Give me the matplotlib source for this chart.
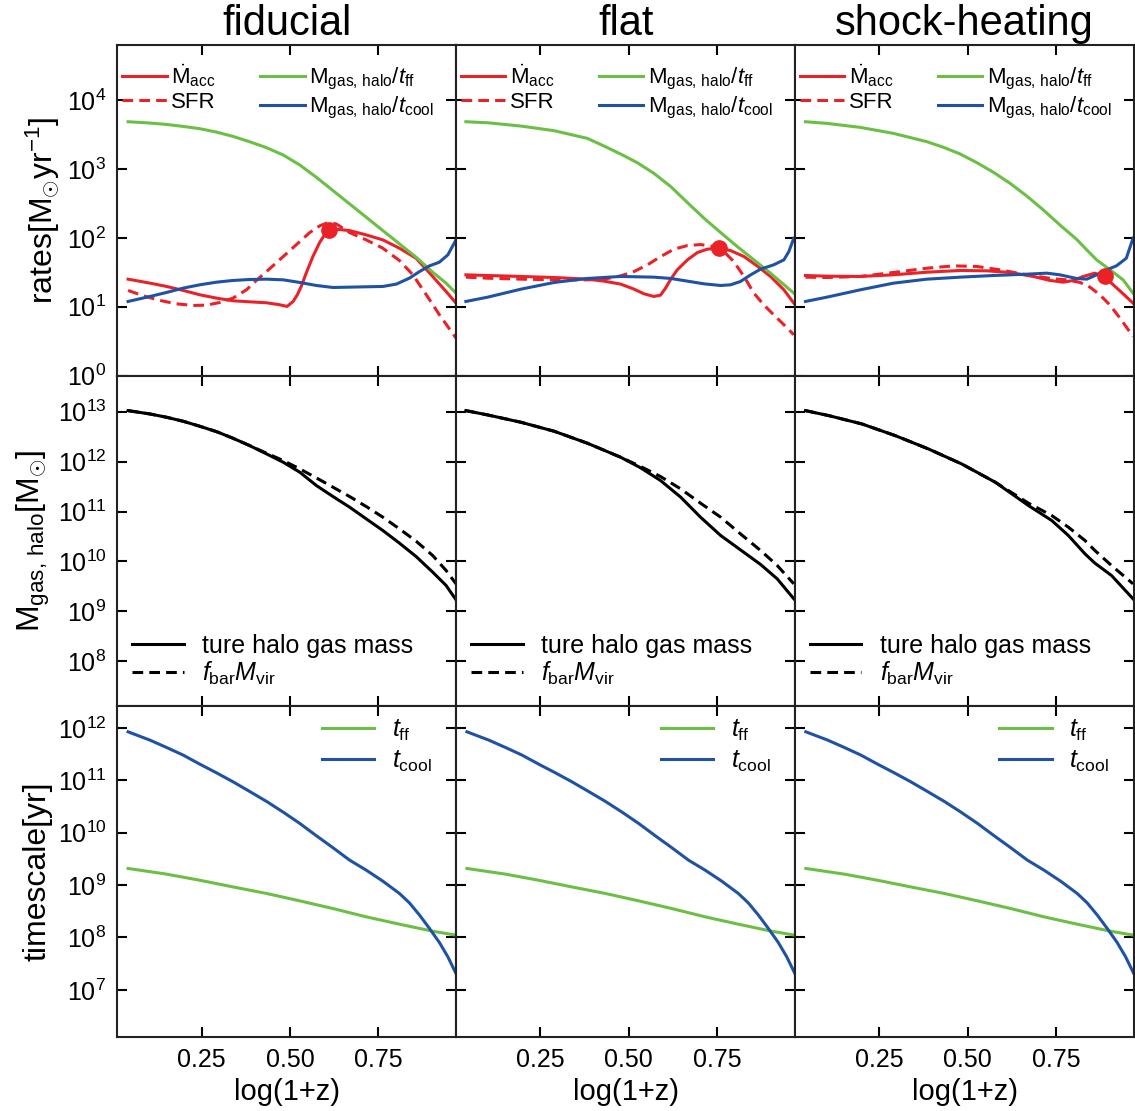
import matplotlib
matplotlib.use("Agg")
import matplotlib.pyplot as plt
import numpy as np
from matplotlib.ticker import LogLocator, NullLocator, FixedLocator, FormatStrFormatter

plt.rcParams["font.family"] = ["Liberation Sans", "DejaVu Sans"]
plt.rcParams["mathtext.fontset"] = "custom"
plt.rcParams["mathtext.rm"] = "Liberation Sans"
plt.rcParams["mathtext.it"] = "Liberation Sans:italic"
plt.rcParams["mathtext.bf"] = "Liberation Sans:bold"

RED = "#eb2128"
GREEN = "#6bbf45"
BLUE = "#1f52a3"

titles = ["fiducial", "flat", "shock-heating"]

# values below are log10 of the plotted quantity

# ---- top row: rates [Msun/yr] ----
# fiducial
macc_x_fid = [0.042, 0.104, 0.151, 0.198, 0.245, 0.292, 0.339, 0.386, 0.434, 0.471, 0.492, 0.509, 0.521,
              0.532, 0.546, 0.565, 0.584, 0.598, 0.612, 0.631, 0.669, 0.716, 0.763, 0.810, 0.857, 0.904,
              0.942, 0.970]
log_macc_fid = [1.401, 1.343, 1.295, 1.237, 1.174, 1.126, 1.087, 1.072, 1.058, 1.029, 1.005, 1.077, 1.174,
                1.295, 1.488, 1.729, 1.932, 2.043, 2.106, 2.126, 2.106, 2.043, 1.971, 1.850, 1.705, 1.440,
                1.222, 1.053]
sfr_x_fid = [0.042, 0.085, 0.132, 0.179, 0.226, 0.264, 0.302, 0.339, 0.377, 0.405, 0.434, 0.481, 0.528,
             0.556, 0.584, 0.608, 0.631, 0.669, 0.716, 0.763, 0.810, 0.848, 0.886, 0.923, 0.970]
log_sfr_fid = [1.237, 1.159, 1.092, 1.043, 1.019, 1.024, 1.063, 1.126, 1.246, 1.382, 1.512, 1.729, 1.947,
               2.077, 2.174, 2.222, 2.203, 2.077, 1.971, 1.850, 1.671, 1.464, 1.174, 0.884, 0.546]
cool_x_fid = [0.042, 0.104, 0.151, 0.198, 0.245, 0.292, 0.339, 0.386, 0.434, 0.481, 0.528, 0.575, 0.622,
              0.669, 0.716, 0.763, 0.801, 0.838, 0.867, 0.895, 0.923, 0.947, 0.970]
log_cool_fid = [1.077, 1.150, 1.208, 1.271, 1.319, 1.357, 1.382, 1.396, 1.401, 1.391, 1.353, 1.309, 1.280,
                1.285, 1.290, 1.295, 1.329, 1.415, 1.512, 1.594, 1.647, 1.754, 1.971]
ff_x_fid = [0.042, 0.104, 0.151, 0.198, 0.245, 0.292, 0.339, 0.386, 0.434, 0.481, 0.528, 0.575, 0.622,
            0.669, 0.716, 0.763, 0.810, 0.857, 0.904, 0.942, 0.970]
log_ff_fid = [3.686, 3.667, 3.647, 3.618, 3.585, 3.536, 3.473, 3.396, 3.309, 3.203, 3.058, 2.879, 2.686,
              2.493, 2.300, 2.106, 1.913, 1.720, 1.502, 1.343, 1.198]
peak_fid = (0.612, 2.116)

# flat
macc_x_flat = [0.039, 0.101, 0.195, 0.289, 0.383, 0.430, 0.477, 0.515, 0.543, 0.571, 0.590, 0.604, 0.619,
               0.637, 0.666, 0.694, 0.722, 0.755, 0.788, 0.826, 0.863, 0.901, 0.939, 0.967]
log_macc_flat = [1.464, 1.454, 1.440, 1.425, 1.401, 1.372, 1.329, 1.256, 1.188, 1.150, 1.169, 1.271, 1.401,
                 1.536, 1.681, 1.787, 1.836, 1.850, 1.816, 1.729, 1.594, 1.440, 1.246, 1.053]
sfr_x_flat = [0.039, 0.101, 0.195, 0.289, 0.383, 0.440, 0.477, 0.515, 0.553, 0.590, 0.628, 0.666, 0.703,
              0.741, 0.769, 0.797, 0.826, 0.854, 0.882, 0.910, 0.939, 0.967]
log_sfr_flat = [1.430, 1.415, 1.401, 1.391, 1.391, 1.411, 1.449, 1.512, 1.609, 1.729, 1.836, 1.889, 1.903,
                1.874, 1.802, 1.657, 1.440, 1.198, 1.029, 0.884, 0.739, 0.594]
cool_x_flat = [0.039, 0.101, 0.195, 0.289, 0.383, 0.477, 0.571, 0.619, 0.666, 0.713, 0.760, 0.788, 0.816,
               0.845, 0.873, 0.910, 0.939, 0.953, 0.967]
log_cool_flat = [1.077, 1.140, 1.256, 1.353, 1.411, 1.440, 1.430, 1.411, 1.372, 1.333, 1.309, 1.319, 1.367,
                 1.464, 1.546, 1.609, 1.681, 1.802, 1.995]
ff_x_flat = [0.039, 0.101, 0.195, 0.289, 0.383, 0.430, 0.477, 0.524, 0.571, 0.619, 0.666, 0.713, 0.760,
             0.807, 0.854, 0.901, 0.967]
log_ff_flat = [3.686, 3.671, 3.623, 3.556, 3.444, 3.333, 3.217, 3.092, 2.937, 2.744, 2.512, 2.285, 2.077,
               1.874, 1.681, 1.488, 1.198]
peak_flat = (0.755, 1.850)

# shock-heating
macc_x_sh = [0.041, 0.102, 0.196, 0.290, 0.385, 0.479, 0.554, 0.620, 0.686, 0.733, 0.771, 0.799, 0.827,
             0.860, 0.888, 0.912, 0.940, 0.968]
log_macc_sh = [1.454, 1.444, 1.440, 1.464, 1.502, 1.527, 1.522, 1.498, 1.440, 1.382, 1.357, 1.382, 1.440,
               1.488, 1.430, 1.319, 1.188, 1.053]
sfr_x_sh = [0.041, 0.102, 0.196, 0.290, 0.385, 0.460, 0.526, 0.592, 0.667, 0.742, 0.780, 0.818, 0.846,
            0.874, 0.902, 0.931, 0.968]
log_sfr_sh = [1.430, 1.425, 1.440, 1.498, 1.560, 1.594, 1.585, 1.536, 1.464, 1.406, 1.391, 1.353, 1.285,
              1.174, 1.029, 0.836, 0.570]
cool_x_sh = [0.041, 0.102, 0.196, 0.290, 0.385, 0.479, 0.573, 0.667, 0.724, 0.761, 0.808, 0.837, 0.865,
             0.893, 0.921, 0.949, 0.968]
log_cool_sh = [1.077, 1.140, 1.246, 1.343, 1.401, 1.430, 1.454, 1.473, 1.488, 1.464, 1.411, 1.401, 1.464,
               1.536, 1.594, 1.705, 1.995]
ff_x_sh = [0.041, 0.102, 0.196, 0.290, 0.385, 0.432, 0.479, 0.526, 0.573, 0.620, 0.667, 0.714, 0.761,
           0.808, 0.837, 0.865, 0.903, 0.940, 0.968]
log_ff_sh = [3.686, 3.662, 3.604, 3.517, 3.396, 3.314, 3.217, 3.092, 2.952, 2.792, 2.609, 2.406, 2.188,
             1.981, 1.826, 1.681, 1.536, 1.391, 1.198]
peak_sh = (0.888, 1.440)

# ---- middle row: halo gas mass [Msun] ----
mass_x_fid = [0.042, 0.104, 0.151, 0.198, 0.245, 0.292, 0.339, 0.386, 0.434, 0.481, 0.528, 0.575, 0.622,
              0.669, 0.716, 0.763, 0.810, 0.857, 0.904, 0.942, 0.970]
log_mgas_fid = [13.02, 12.953, 12.887, 12.807, 12.707, 12.600, 12.467, 12.320, 12.153, 11.987, 11.787,
                11.520, 11.300, 11.087, 10.853, 10.620, 10.367, 10.100, 9.787, 9.520, 9.233]
log_fbar_fid = [13.02, 12.953, 12.887, 12.807, 12.707, 12.600, 12.467, 12.320, 12.167, 12.020, 11.853,
                11.673, 11.487, 11.300, 11.100, 10.887, 10.653, 10.407, 10.120, 9.820, 9.553]

mass_x_flat = [0.039, 0.101, 0.195, 0.289, 0.383, 0.477, 0.534, 0.590, 0.647, 0.703, 0.760, 0.816, 0.873,
               0.920, 0.967]
log_mgas_flat = [13.02, 12.933, 12.787, 12.607, 12.367, 12.087, 11.873, 11.620, 11.287, 10.887, 10.520,
                 10.233, 9.940, 9.653, 9.253]
log_fbar_flat = [13.02, 12.933, 12.787, 12.607, 12.367, 12.087, 11.900, 11.700, 11.453, 11.167, 10.887,
                 10.553, 10.220, 9.920, 9.553]

mass_x_sh = [0.041, 0.107, 0.201, 0.295, 0.389, 0.483, 0.578, 0.672, 0.738, 0.785, 0.832, 0.860, 0.907,
             0.968]
log_mgas_sh = [13.02, 12.920, 12.753, 12.520, 12.253, 11.953, 11.587, 11.120, 10.820, 10.520, 10.153,
               9.967, 9.720, 9.253]
log_fbar_sh = [13.02, 12.920, 12.753, 12.520, 12.253, 11.953, 11.587, 11.167, 10.920, 10.687, 10.420,
               10.220, 9.920, 9.553]

# ---- bottom row: timescales [yr] (same in all three runs) ----
tcool_x = [0.042, 0.104, 0.151, 0.198, 0.245, 0.292, 0.339, 0.386, 0.434, 0.481, 0.528, 0.575, 0.622,
           0.669, 0.716, 0.763, 0.810, 0.838, 0.867, 0.895, 0.923, 0.947, 0.970]
log_tcool = [11.924, 11.765, 11.625, 11.479, 11.307, 11.142, 10.970, 10.786, 10.595, 10.391, 10.175, 9.940,
             9.711, 9.475, 9.284, 9.074, 8.839, 8.661, 8.425, 8.171, 7.904, 7.630, 7.312]
tff_x = [0.042, 0.151, 0.245, 0.339, 0.434, 0.528, 0.622, 0.716, 0.810, 0.904, 0.970]
log_tff = [9.316, 9.208, 9.091, 8.964, 8.839, 8.698, 8.551, 8.393, 8.253, 8.119, 8.043]

runs = [
    dict(macc_x=macc_x_fid, macc=log_macc_fid, sfr_x=sfr_x_fid, sfr=log_sfr_fid,
         cool_x=cool_x_fid, cool=log_cool_fid, ff_x=ff_x_fid, ff=log_ff_fid, peak=peak_fid,
         mx=mass_x_fid, mgas=log_mgas_fid, fbar=log_fbar_fid),
    dict(macc_x=macc_x_flat, macc=log_macc_flat, sfr_x=sfr_x_flat, sfr=log_sfr_flat,
         cool_x=cool_x_flat, cool=log_cool_flat, ff_x=ff_x_flat, ff=log_ff_flat, peak=peak_flat,
         mx=mass_x_flat, mgas=log_mgas_flat, fbar=log_fbar_flat),
    dict(macc_x=macc_x_sh, macc=log_macc_sh, sfr_x=sfr_x_sh, sfr=log_sfr_sh,
         cool_x=cool_x_sh, cool=log_cool_sh, ff_x=ff_x_sh, ff=log_ff_sh, peak=peak_sh,
         mx=mass_x_sh, mgas=log_mgas_sh, fbar=log_fbar_sh),
]


def p10(v):
    return np.power(10.0, np.asarray(v))


lw = 2.2
dash = (0, (3.5, 2))
fig, axes = plt.subplots(3, 3, figsize=(11.35, 11.11), dpi=100, sharex=True, sharey="row")
fig.subplots_adjust(left=0.1035, right=0.9992, top=0.9595, bottom=0.0666, wspace=0, hspace=0)

for j, run in enumerate(runs):
    ax = axes[0, j]
    ax.plot(run["macc_x"], p10(run["macc"]), color=RED, lw=lw, label=r"$\dot{\mathrm{M}}_{\mathrm{acc}}$")
    ax.plot(run["sfr_x"], p10(run["sfr"]), color=RED, lw=lw, ls=dash, label="SFR")
    ax.plot(run["ff_x"], p10(run["ff"]), color=GREEN, lw=lw, label=r"$\mathrm{M_{gas,\,halo}}/t_{\mathrm{ff}}$")
    ax.plot(run["cool_x"], p10(run["cool"]), color=BLUE, lw=lw, label=r"$\mathrm{M_{gas,\,halo}}/t_{\mathrm{cool}}$")
    ax.plot(run["peak"][0], 10 ** run["peak"][1], "o", color=RED, ms=11, zorder=5)
    ax.legend(loc="upper left", bbox_to_anchor=(-0.006, 0.967), ncol=2, frameon=False, fontsize=16,
              handlelength=2.0, handletextpad=0.2, columnspacing=2.0, labelspacing=0.12,
              borderaxespad=0.1, borderpad=0.2)
    ax.set_title(titles[j], fontsize=30, pad=7)

    ax = axes[1, j]
    ax.plot(run["mx"], p10(run["mgas"]), color="black", lw=lw, label="ture halo gas mass")
    ax.plot(run["mx"], p10(run["fbar"]), color="black", lw=lw, ls=dash, label=r"$f_{\mathrm{bar}}M_{\mathrm{vir}}$")
    ax.legend(loc="lower left", bbox_to_anchor=(0.0, 0.012), frameon=False, fontsize=18,
              handlelength=2.05, handletextpad=0.75, labelspacing=0.1, borderaxespad=0.3, borderpad=0.3)

    ax = axes[2, j]
    ax.plot(tff_x, p10(log_tff), color=GREEN, lw=lw, label=r"$t_{\mathrm{ff}}$")
    ax.plot(tcool_x, p10(log_tcool), color=BLUE, lw=lw, label=r"$t_{\mathrm{cool}}$")
    ax.legend(loc="upper right", bbox_to_anchor=(0.971, 1.012), frameon=False, fontsize=18,
              handlelength=2.1, handletextpad=0.7, labelspacing=0.25, borderaxespad=0.3, borderpad=0.3)

ylims = [(1, 10 ** 4.8), (10 ** 7.1, 10 ** 13.72), (10 ** 6.1, 10 ** 12.41)]
for i in range(3):
    for j in range(3):
        ax = axes[i, j]
        ax.set_yscale("log")
        ax.set_ylim(*ylims[i])
        ax.set_xlim(0.012, 0.971)
        ax.yaxis.set_major_locator(LogLocator(base=10, numticks=20))
        ax.yaxis.set_minor_locator(NullLocator())
        ax.xaxis.set_major_locator(FixedLocator([0.25, 0.5, 0.75]))
        ax.xaxis.set_major_formatter(FormatStrFormatter("%.2f"))
        ax.tick_params(which="both", direction="in", top=True, right=True,
                       length=7, width=1.5, labelsize=18, pad=8)
        for sp in ax.spines.values():
            sp.set_linewidth(1.5)
            sp.set_color("#222222")

axes[0, 0].set_ylabel(r"rates$[\mathrm{M_{\odot}yr^{-1}}]$", fontsize=23)
axes[1, 0].set_ylabel(r"$\mathrm{M_{gas,\,halo}[M_{\odot}]}$", fontsize=23)
axes[2, 0].set_ylabel("timescale[yr]", fontsize=23)
for j in range(3):
    axes[2, j].set_xlabel("log(1+z)", fontsize=21)

fig.savefig("out.png", dpi=100)
